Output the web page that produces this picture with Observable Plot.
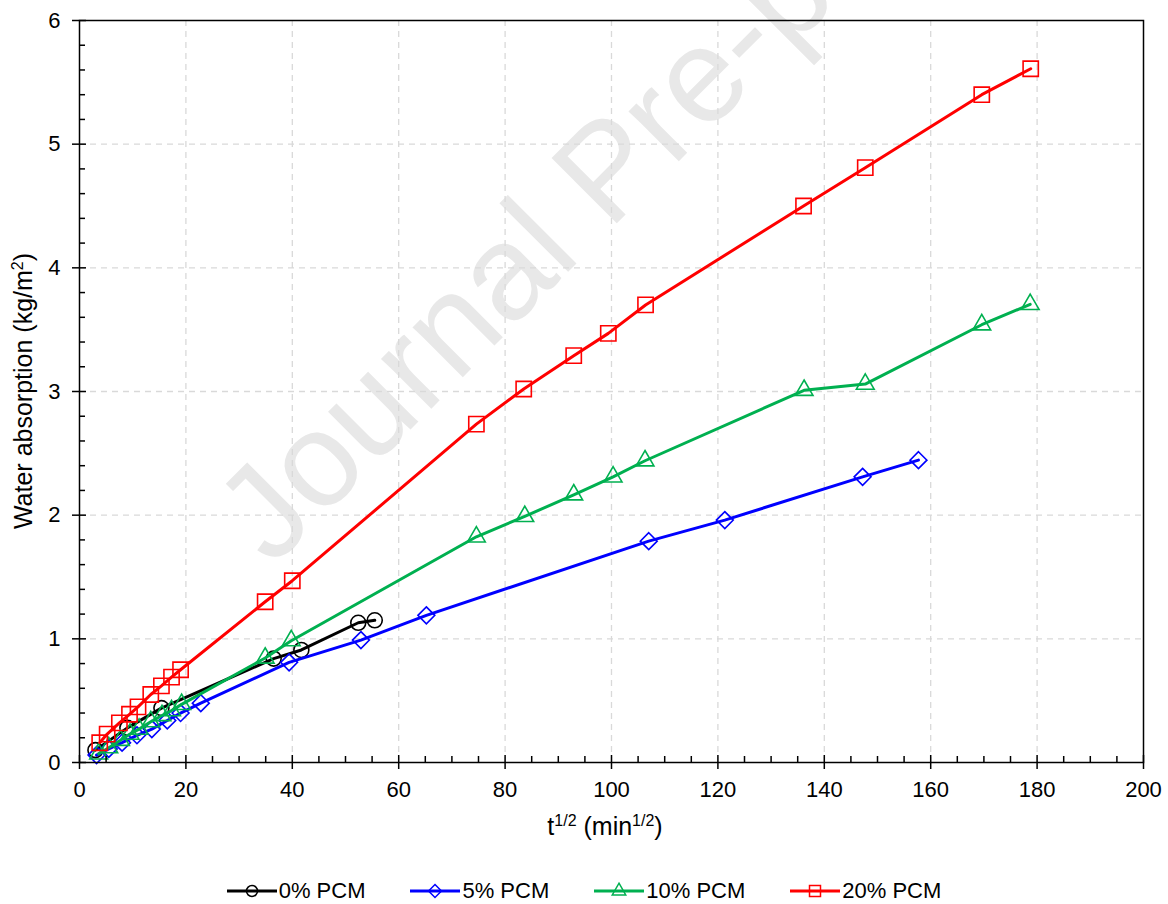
<!DOCTYPE html>
<html><head><meta charset="utf-8">
<script src="https://cdn.jsdelivr.net/npm/d3@7"></script>
<script src="https://cdn.jsdelivr.net/npm/@observablehq/plot@0.6"></script>
<style>
body{margin:0;background:#fff;font-family:"Liberation Sans",Arial,sans-serif;}
#legend{display:flex;justify-content:center;align-items:center;gap:45px;height:44px;margin-top:9px;font-size:22px;color:#000;padding-left:0px;}
.item{display:flex;align-items:center;gap:2px}
</style></head><body><div id="chart"></div><div id="legend"></div>
<script>
const seriesNames = ["0% PCM","5% PCM","10% PCM","20% PCM"];
const seriesColors = ["#000000","#0000FF","#00B050","#FF0000"];
const seriesSymbols = ["circle","diamond2","triangle","square"];

const x0 = [3.0, 9.0, 15.4, 36.5, 41.7, 52.4, 55.5];
const y0 = [0.10, 0.28, 0.44, 0.84, 0.91, 1.13, 1.15];

const x5 = [3.2, 5.5, 8.0, 10.8, 13.6, 16.5, 19.0, 22.8, 39.4, 52.9, 65.2, 107.0, 121.3, 147.2, 157.7];
const y5 = [0.06, 0.11, 0.16, 0.22, 0.27, 0.34, 0.40, 0.48, 0.81, 0.99, 1.19, 1.79, 1.96, 2.31, 2.445];

const x10 = [3.6, 5.5, 7.7, 9.5, 11.2, 13.4, 15.5, 17.3, 19.2, 34.9, 39.8, 74.6, 83.7, 92.9, 100.3, 106.3, 136.2, 147.7, 169.6, 178.7];
const y10 = [0.07, 0.12, 0.18, 0.23, 0.27, 0.33, 0.38, 0.42, 0.47, 0.845, 0.985, 1.825, 1.99, 2.165, 2.31, 2.44, 3.01, 3.06, 3.54, 3.705];

const x20 = [3.8, 5.2, 7.5, 9.4, 11.0, 13.4, 15.4, 17.3, 19.0, 34.9, 40.0, 74.6, 83.5, 92.9, 99.4, 106.4, 136.1, 147.7, 169.6, 178.8];
const y20 = [0.16, 0.23, 0.32, 0.39, 0.45, 0.55, 0.62, 0.69, 0.75, 1.30, 1.47, 2.736, 3.02, 3.29, 3.47, 3.70, 4.50, 4.81, 5.40, 5.61];

const xMajor = [0,20,40,60,80,100,120,140,160,180,200];
const yMajor = [0,1,2,3,4,5,6];
const xMinor = d3.range(0,201,5).filter(v => v % 20 !== 0);
const yMinor = d3.range(1,30).map(i => +(i*0.2).toFixed(1)).filter(v => Math.abs(v - Math.round(v)) > 1e-6);
const xGrid = xMajor.filter(v => v > 0 && v < 200);
const yGrid = yMajor.filter(v => v > 0 && v < 6);

const allX = [x0, x5, x10, x20], allY = [y0, y5, y10, y20];
const table = [];
allX.forEach((xs, s) => xs.forEach((x, i) => table.push({s: seriesNames[s], x, y: allY[s][i]})));

const W = 1168, H = 860, mL = 79, mR = 25, mT = 20, mB = 98;
const pw = W - mL - mR, ph = H - mT - mB;

const marks = [
  Plot.gridX(xGrid, {stroke: "#d9d9d9", strokeOpacity: 1, strokeWidth: 1.3, strokeDasharray: "6,5"}),
  Plot.gridY(yGrid, {stroke: "#d9d9d9", strokeOpacity: 1, strokeWidth: 1.3, strokeDasharray: "6,5"}),
];
seriesNames.forEach((name, s) => {
  const d = table.filter(r => r.s === name);
  marks.push(Plot.line(d, {x: "x", y: "y", stroke: seriesColors[s], strokeWidth: 3}));
  marks.push(Plot.dot(d, {x: "x", y: "y", stroke: seriesColors[s], fill: "none", strokeWidth: 1.6,
    symbol: () => seriesSymbols[s],
    r: [7.5, 7.6, 6.6, 8.6][s]}));
});
marks.push(
  Plot.frame({stroke: "#000", strokeWidth: 1.5}),
  Plot.tickX(xMajor, {x: d => d, stroke: "#000", strokeWidth: 1.5, insetTop: ph - 7, insetBottom: -7}),
  Plot.tickX(xMinor, {x: d => d, stroke: "#000", strokeWidth: 1.5, insetTop: ph - 6}),
  Plot.tickY(yMajor, {y: d => d, stroke: "#000", strokeWidth: 1.5, insetRight: pw - 7, insetLeft: -7}),
  Plot.tickY(yMinor, {y: d => d, stroke: "#000", strokeWidth: 1.5, insetRight: pw - 6}),
  Plot.axisX(xMajor, {tickSize: 0, tickPadding: 19, fontSize: 22, label: null, tickFormat: d => String(d)}),
  Plot.axisY(yMajor, {tickSize: 0, tickPadding: 19, fontSize: 22, label: null, tickFormat: d => String(d)})
);

const chart = Plot.plot({
  width: W, height: H,
  marginLeft: mL, marginRight: mR, marginTop: mT, marginBottom: mB,
  style: {fontFamily: '"Liberation Sans", Arial, sans-serif', color: "#000", background: "#fff", overflow: "hidden"},
  x: {domain: [0, 200], label: null},
  y: {domain: [0, 6], label: null},
  marks
});
document.getElementById("chart").appendChild(chart);

const svg = d3.select(chart);
// watermark
svg.insert("text", ":scope > g")
  .attr("transform", "translate(272,568) rotate(-45)")
  .attr("text-anchor", "start")
  .attr("font-size", 134)
  .attr("font-family", '"Liberation Sans", Arial, sans-serif')
  .attr("fill", "#e8e8e8")
  .text("Journal Pre-proof");

// axis titles
const yt = svg.append("text")
  .attr("transform", `translate(32,${mT + ph/2}) rotate(-90)`)
  .attr("text-anchor", "middle")
  .attr("font-size", 25)
  .attr("fill", "#000");
yt.append("tspan").text("Water absorption (kg/m");
yt.append("tspan").attr("font-size", 16).attr("dy", -9).text("2");
yt.append("tspan").attr("dy", 9).text(")");

const xt = svg.append("text")
  .attr("x", mL + pw/2 - 6).attr("y", 835)
  .attr("text-anchor", "middle")
  .attr("font-size", 25)
  .attr("fill", "#000");
xt.append("tspan").text("t");
xt.append("tspan").attr("font-size", 16).attr("dy", -9).text("1/2");
xt.append("tspan").attr("dy", 9).text(" (min");
xt.append("tspan").attr("font-size", 16).attr("dy", -9).text("1/2");
xt.append("tspan").attr("dy", 9).text(")");

// legend
const leg = d3.select("#legend");
seriesNames.forEach((name, s) => {
  const it = leg.append("div").attr("class", "item");
  const sw = it.append("svg").attr("width", 50).attr("height", 22);
  sw.append("line").attr("x1", 0).attr("x2", 50).attr("y1", 11).attr("y2", 11)
    .attr("stroke", seriesColors[s]).attr("stroke-width", 3);
  const sym = {circle: d3.symbolCircle, diamond2: d3.symbolDiamond2, triangle: d3.symbolTriangle, square: d3.symbolSquare}[seriesSymbols[s]];
  const r = [5.5, 5.8, 5, 6.2][s];
  sw.append("path").attr("transform", "translate(25,11)")
    .attr("d", d3.symbol(sym, Math.PI * r * r)())
    .attr("fill", "none").attr("stroke", seriesColors[s]).attr("stroke-width", 1.5);
  it.append("span").text(name);
});
</script></body></html>
